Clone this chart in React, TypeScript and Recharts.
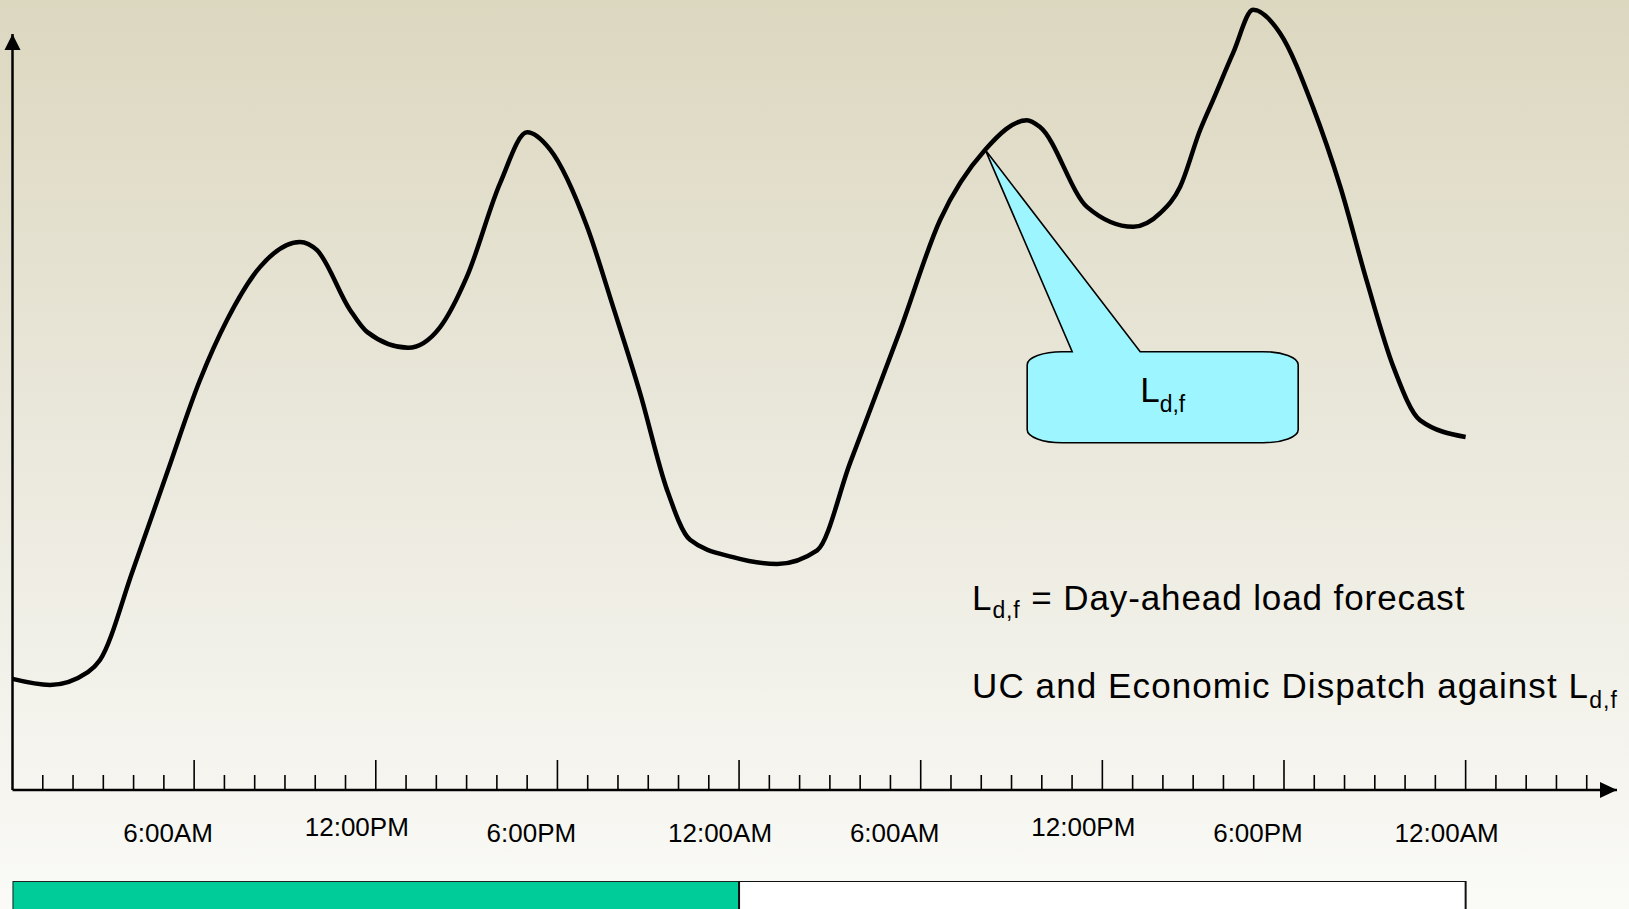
import { ComposedChart, BarChart, Bar, Line, XAxis, YAxis, ReferenceLine, ReferenceDot } from 'recharts';

// time axis (hours from midnight of day 1) and the day-ahead load forecast
const hours = [
  0, 1.24, 2.49, 2.89, 3.98, 5.1, 6.19, 7.09, 8.18, 9.5, 10.06, 11.15, 11.71, 13.07, 14.12, 15.01,
  16.11, 17.0, 17.76, 18.98, 19.84, 20.73, 21.62, 22.38, 23.8, 25.26, 26.58, 27.67, 29.32, 30.64,
  32.13, 33.51, 33.94, 35.5, 37.02, 37.91, 38.57, 39.23, 39.66, 40.32, 40.98, 41.87, 42.96, 43.86,
  44.75, 45.61, 46.5, 48.0,
];
const loadForecast = [
  14.7, 13.9, 15.6, 17.2, 29.1, 41.9, 54.2, 62.2, 69.2, 72.5, 71.4, 63.5, 60.6, 58.5, 61.2, 67.9,
  80.3, 87.0, 84.7, 74.5, 63.9, 52.5, 39.7, 33.1, 30.8, 29.9, 31.7, 43.3, 60.8, 75.4,
  84.7, 88.6, 87.7, 77.1, 74.5, 76.3, 79.8, 87.3, 91.3, 97.5, 103.2, 100.1, 90.3, 79.8,
  67.1, 56.0, 48.9, 46.7,
];

const tickLabels = ['6:00AM', '12:00PM', '6:00PM', '12:00AM', '6:00AM', '12:00PM', '6:00PM', '12:00AM'];
const hourTicks = Array.from({ length: 52 }, (_, i) => i + 1);

// day blocks under the axis (hours per day)
const dayLengths = [24, 24];

// where the callout points on the curve
const calloutHour = 32.13;
const calloutLoad = 84.7;

const data = hours.map((h, i) => ({ hour: h, load: loadForecast[i] }));
const dayData = [{ row: 'days', day1: dayLengths[0], day2: dayLengths[1] }];

const FONT = 'Arial, "Liberation Sans", sans-serif';

const HourTick = ({ x, y, payload }: any) => {
  const v = payload.value;
  const major = v % 6 === 0;
  const label = major ? tickLabels[v / 6 - 1] : null;
  const isTwelve = label && label.startsWith('12');
  const raised = label === '12:00PM';
  return (
    <g>
      <line x1={x} x2={x} y1={y} y2={y - (major ? 30 : 15)} stroke="#000" strokeWidth={1.6} />
      {label && (
        <text
          x={x + (isTwelve ? -19 : -26)}
          y={y + (raised ? 46 : 52)}
          textAnchor="middle"
          fontSize={26}
          fontFamily={FONT}
          fill="#000"
        >
          {label}
        </text>
      )}
    </g>
  );
};

const ArrowRight = ({ cx, cy }: any) => (
  <polygon points={`${cx},${cy} ${cx - 17},${cy - 8} ${cx - 17},${cy + 8}`} fill="#000" />
);

const ArrowUp = ({ cx, cy }: any) => (
  <polygon points={`${cx},${cy} ${cx - 8},${cy + 16} ${cx + 8},${cy + 16}`} fill="#000" />
);

const Callout = ({ cx, cy }: any) => {
  const L = cx + 42;
  const R = cx + 313;
  const T = cy + 202;
  const B = cy + 293;
  const rx = 35;
  const ry = 13;
  const d = [
    `M${cx},${cy}`,
    `L${cx + 155},${T}`,
    `L${R - rx},${T}`,
    `A${rx},${ry} 0 0 1 ${R},${T + ry}`,
    `L${R},${B - ry}`,
    `A${rx},${ry} 0 0 1 ${R - rx},${B}`,
    `L${L + rx},${B}`,
    `A${rx},${ry} 0 0 1 ${L},${B - ry}`,
    `L${L},${T + ry}`,
    `A${rx},${ry} 0 0 1 ${L + rx},${T}`,
    `L${cx + 87},${T}`,
    'Z',
  ].join(' ');
  return (
    <g>
      <path d={d} fill="#9DF6FF" stroke="#000" strokeWidth={1.6} />
      <text x={cx + 155} y={cy + 252} fontSize={35} fontFamily={FONT} fill="#000">
        L
        <tspan fontSize={23} dy={10}>d,f</tspan>
      </text>
    </g>
  );
};

export default function App() {
  return (
    <div
      style={{
        position: 'fixed',
        left: 0,
        top: 0,
        width: 1629,
        height: 909,
        overflow: 'hidden',
        background: 'linear-gradient(to bottom, #DCD7BF 0%, #E9E7DA 45%, #FAFAF7 100%)',
        fontFamily: FONT,
      }}
    >
      <div style={{ position: 'absolute', left: 0, top: 0 }}>
        <ComposedChart width={1629} height={860} data={data} margin={{ top: 0, right: 12, left: 12.5, bottom: 0 }}>
          <XAxis
            type="number"
            dataKey="hour"
            domain={[0, 53]}
            ticks={hourTicks}
            interval={0}
            tick={<HourTick />}
            tickLine={false}
            tickSize={0}
            tickMargin={0}
            axisLine={{ stroke: '#000', strokeWidth: 2.5 }}
            height={70}
            allowDataOverflow
          />
          <YAxis hide domain={[0, 104.5]} allowDataOverflow />
          <ReferenceLine
            segment={[{ x: 0, y: 0 }, { x: 0, y: 100 }]}
            stroke="#000"
            strokeWidth={2.5}
            ifOverflow="visible"
          />
          <ReferenceDot x={53} y={0} r={0} shape={ArrowRight} ifOverflow="visible" />
          <ReferenceDot x={0} y={100} r={0} shape={ArrowUp} ifOverflow="visible" />
          <Line
            dataKey="load"
            type="monotone"
            stroke="#000"
            strokeWidth={4.5}
            dot={false}
            activeDot={false}
            isAnimationActive={false}
          />
          <ReferenceDot x={calloutHour} y={calloutLoad} r={0} shape={Callout} ifOverflow="visible" />
        </ComposedChart>
      </div>

      <svg width={1629} height={909} style={{ position: 'absolute', left: 0, top: 0, pointerEvents: 'none' }}>
        <text x={972} y={610} fontSize={35} fontFamily={FONT} fill="#000" letterSpacing={0.9}>
          L<tspan fontSize={23} dy={8}>d,f</tspan>
          <tspan dy={-8}> = Day-ahead load forecast</tspan>
        </text>
        <text x={972} y={698} fontSize={35} fontFamily={FONT} fill="#000" letterSpacing={1.1}>
          UC and Economic Dispatch against L<tspan fontSize={23} dy={10}>d,f</tspan>
        </text>
      </svg>

      <div style={{ position: 'absolute', left: 0, top: 881 }}>
        <BarChart
          width={1629}
          height={50}
          layout="vertical"
          data={dayData}
          barCategoryGap={0}
          margin={{ top: 0, right: 12, left: 12.5, bottom: 0 }}
        >
          <XAxis type="number" domain={[0, 53]} hide allowDataOverflow />
          <YAxis type="category" dataKey="row" hide />
          <Bar dataKey="day1" stackId="d" fill="#00CC99" stroke="#222" strokeWidth={2} isAnimationActive={false} />
          <Bar dataKey="day2" stackId="d" fill="#FFFFFF" stroke="#111" strokeWidth={2} isAnimationActive={false} />
        </BarChart>
      </div>
    </div>
  );
}
